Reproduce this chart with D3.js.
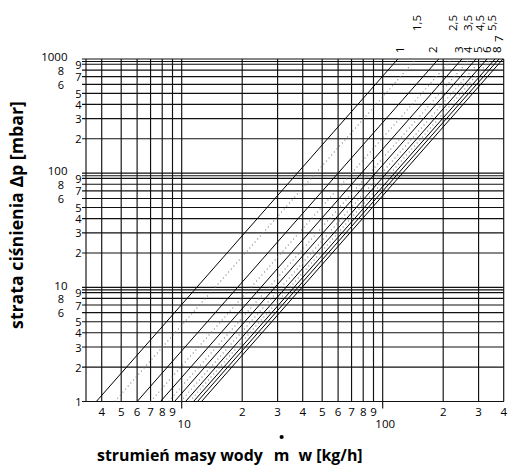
<!DOCTYPE html>
<html><head><meta charset="utf-8">
<script src="https://cdn.jsdelivr.net/npm/d3@7"></script>
<style>
html,body{margin:0;padding:0;background:#fff;}
text{font-family:"Open Sans","DejaVu Sans",sans-serif;fill:#000;}
</style></head>
<body><svg id="c" width="509" height="470"></svg>
<script>
// ---- data ----
const presetLabels = ["1","1,5","2","2,5","3","3,5","4","4,5","5","5,5","6","7","8"];
// mass flow [kg/h] at a pressure loss of 1 mbar for each preset line (Δp ∝ m²)
const flowAt1mbar = [3.76,4.64,6.0,7.0,7.84,8.6,9.21,9.87,10.45,10.94,11.45,11.98,12.55];
const dottedLine = [false,true,false,true,false,true,false,true,false,true,false,false,false];
const xGridValues = [4,5,6,7,8,9,10,20,30,40,50,60,70,80,90,100,200,300,400];
const xTickLabels = ["4","5","6","7","8","9","10","2","3","4","5","6","7","8","9","100","2","3","4"];
const yGridValues = [1,2,3,4,5,6,7,8,9,9.5,10,20,30,40,50,60,70,80,90,95,100,200,300,400,500,600,700,800,900,950,1000];
const yMajorLabels = ["1","10","100","1000"];
const yMinorLabels = ["2","3","4","5","6","7","8","9"];
const xTitle = ["strumień masy wody","m","w [kg/h]"];
const yTitle = "strata ciśnienia Δp [mbar]";

// ---- layout ----
const svg = d3.select("#c");
const X0 = 86, X1 = 503.7, Y0 = 401.5, Y1 = 59;
const x = d3.scaleLog().domain([Math.pow(10, 1 - (181.7 - X0) / 201), 400]).range([X0, X1]);
const y = d3.scaleLog().domain([1, 1000]).range([Y0, Y1]);

const grid = svg.append("g").attr("stroke", "#111").attr("stroke-width", 1.15);
grid.selectAll("line.h").data(yGridValues).join("line")
  .attr("x1", X0 - 4).attr("x2", X1)
  .attr("y1", d => y(d)).attr("y2", d => y(d));
grid.selectAll("line.v").data(xGridValues).join("line")
  .attr("x1", d => x(d)).attr("x2", d => x(d))
  .attr("y1", Y1).attr("y2", d => (d === 10 || d === 100) ? Y0 + 7 : Y0);
grid.append("line").attr("x1", X0).attr("x2", X0).attr("y1", Y1).attr("y2", Y0);
grid.append("line").attr("x1", X0).attr("x2", X1).attr("y1", Y0).attr("y2", Y0);

// ---- curves ----
svg.append("clipPath").attr("id", "clip").append("rect")
  .attr("x", X0).attr("y", Y1).attr("width", X1 - X0).attr("height", Y0 - Y1);
const dpSamples = [1, 1000];
const lineGen = d3.line().x(d => x(d[0])).y(d => y(d[1]));
const curves = svg.append("g").attr("clip-path", "url(#clip)").attr("fill", "none");
flowAt1mbar.forEach((q, i) => {
  const pts = dpSamples.map(dp => [q * Math.sqrt(dp), dp]);
  curves.append("path").attr("d", lineGen(pts))
    .attr("stroke", dottedLine[i] ? "#777" : "#000")
    .attr("stroke-width", dottedLine[i] ? 1.1 : 1)
    .attr("stroke-dasharray", dottedLine[i] ? "1,3" : null);
});

// ---- curve labels (rotated) ----
const tops = flowAt1mbar.map(q => x(q * Math.sqrt(1000)));
const row = presetLabels.map((l, i) => l === "7" ? 3 : (dottedLine[i] ? 2 : 1));
const rowBase = {1: 53, 2: 31, 3: 42};
const rowMax = {1: 496, 2: 493, 3: 500};
const rowGap = {1: 9.5, 2: 12, 3: 9};
const labelX = tops.slice();
[1, 2, 3].forEach(r => {
  const idx = presetLabels.map((l, i) => i).filter(i => row[i] === r);
  let next = Infinity;
  for (let k = idx.length - 1; k >= 0; k--) {
    const i = idx[k];
    let v = Math.min(tops[i] + (presetLabels[i] === "1" ? 2 : 0), rowMax[r], next - rowGap[r]);
    if (presetLabels[i] === "2") v -= 6;
    labelX[i] = v; next = v;
  }
});
svg.append("g").selectAll("text").data(presetLabels).join("text")
  .attr("transform", (d, i) => `translate(${labelX[i]},${rowBase[row[i]]}) rotate(-90)`)
  .attr("dominant-baseline", "central")
  .attr("text-anchor", "start")
  .attr("font-size", 11.5)
  .text(d => d);

// ---- x tick labels ----
svg.append("g").selectAll("text").data(xGridValues).join("text")
  .attr("x", d => x(d) + ((d === 10 || d === 100) ? 2.5 : 0))
  .attr("y", d => (d === 10 || d === 100) ? 428 : 416)
  .attr("text-anchor", "middle").attr("font-size", 11.5)
  .text((d, i) => xTickLabels[i]);

// ---- y tick labels ----
const yl = svg.append("g").attr("font-size", 11).attr("text-anchor", "end").attr("dominant-baseline", "central");
[1, 10, 100].forEach(dec => {
  yMinorLabels.forEach(s => {
    const v = +s * dec;
    const leftCol = (s === "8" || s === "6");
    yl.append("text").attr("x", leftCol ? 64 : 81.5).attr("y", y(v)).text(s);
  });
});
yMajorLabels.forEach(s => {
  const v = +s;
  if (v === 1) yl.append("text").attr("x", 81.5).attr("y", y(v)).text(s);
  else yl.append("text").attr("x", 67.5).attr("y", y(v) - 2.3).attr("font-size", 11.5).text(s);
});

// ---- axis titles (size fitted to reference extents) ----
const tx = svg.append("text").attr("y", 461).attr("font-weight", 700);
const s1 = tx.append("tspan").attr("x", 97).text(xTitle[0]);
tx.attr("font-size", 14);
const fsX = 14 * 166 / s1.node().getComputedTextLength();
tx.attr("font-size", fsX);
const w1 = s1.node().getComputedTextLength();
const mX = 97 + w1 + 11;
const mSpan = tx.append("tspan").attr("x", mX).text(xTitle[1]);
const wm = mSpan.node().getComputedTextLength();
tx.append("tspan").attr("x", mX + wm + 9).text(xTitle[2]);
svg.append("circle").attr("cx", mX + wm / 2).attr("cy", 437).attr("r", 2.1).attr("fill", "#000");

const ty = svg.append("text")
  .attr("transform", "translate(23,215) rotate(-90)")
  .attr("text-anchor", "middle").attr("font-weight", 700).attr("font-size", 14)
  .text(yTitle);
const fsY = 14 * 228 / ty.node().getComputedTextLength();
ty.attr("font-size", fsY);
</script></body></html>
